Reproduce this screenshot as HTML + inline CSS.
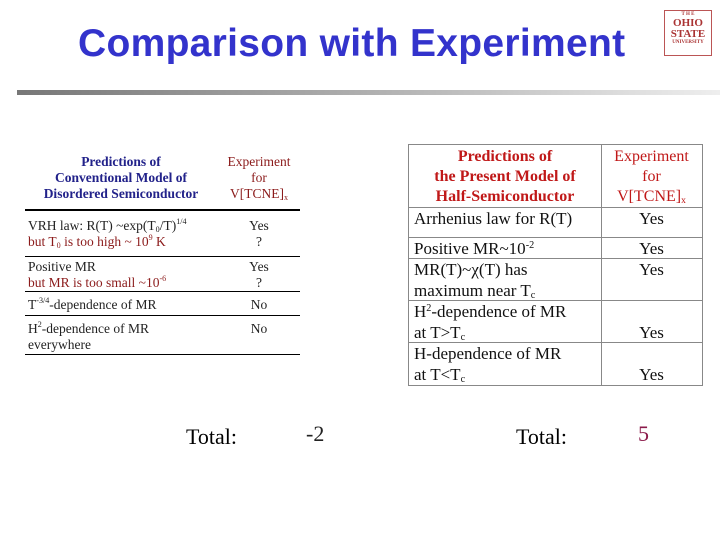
<!DOCTYPE html>
<html><head><meta charset="utf-8"><style>
body{margin:0;width:720px;height:540px;background:#fff;position:relative;overflow:hidden;font-family:"Liberation Serif",serif}
.a{position:absolute;white-space:nowrap}
.L{font-size:13.5px;line-height:16px;color:#222}
.R{font-size:17px;line-height:21px;color:#111}
.red{color:#8b1a1a}
.hr{position:absolute;background:#000}
sup{font-size:60%;vertical-align:6px;line-height:0}
sub{font-size:60%;vertical-align:-2px;line-height:0}
</style></head><body>
<div class="a" style="left:78px;top:22px;font:bold 39px 'Liberation Sans',sans-serif;color:#3333cc;letter-spacing:0.3px">Comparison with Experiment</div>
<div class="a" style="left:17px;top:90px;width:703px;height:5px;background:linear-gradient(to right,#777,#bbb 60%,#eee)"></div>
<div class="a" style="left:664px;top:10px;width:46px;height:44px;border:1px solid #b55;color:#a33;text-align:center;font:bold 11px/11px 'Liberation Serif',serif"><div style="font-size:5px;line-height:7px">T H E</div>OHIO<br>STATE<div style="font-size:5px;line-height:6px">UNIVERSITY</div></div>

<div>
<div class="a L" style="left:30px;top:154px;width:182px;text-align:center;font-weight:bold;color:#22228a">Predictions of<br>Conventional Model of<br>Disordered Semiconductor</div>
<div class="a L red" style="left:218px;top:154px;width:82px;text-align:center">Experiment<br>for<br>V[TCNE]<sub>x</sub></div>
<div class="hr" style="left:25px;top:209px;width:275px;height:2px"></div>
<div class="a L" style="left:28px;top:218px">VRH law: R(T) ~exp(T<sub>0</sub>/T)<sup>1/4</sup><br><span class="red">but T<sub>0</sub> is too high ~ 10<sup>9</sup> K</span></div>
<div class="a L" style="left:218px;top:218px;width:82px;text-align:center">Yes<br>?</div>
<div class="hr" style="left:25px;top:256px;width:275px;height:1px"></div>
<div class="a L" style="left:28px;top:259px">Positive MR<br><span class="red">but MR is too small ~10<sup>-6</sup></span></div>
<div class="a L" style="left:218px;top:259px;width:82px;text-align:center">Yes<br>?</div>
<div class="hr" style="left:25px;top:291px;width:275px;height:1px"></div>
<div class="a L" style="left:28px;top:297px">T<sup>-3/4</sup>-dependence of MR</div>
<div class="a L" style="left:218px;top:297px;width:82px;text-align:center">No</div>
<div class="hr" style="left:25px;top:315px;width:275px;height:1px"></div>
<div class="a L" style="left:28px;top:321px">H<sup>2</sup>-dependence of MR<br>everywhere</div>
<div class="a L" style="left:218px;top:321px;width:82px;text-align:center">No</div>
<div class="hr" style="left:25px;top:354px;width:275px;height:1px"></div>
</div>

<div style="position:absolute;left:408px;top:144px;width:293px;height:240px;border:1px solid #888">
<div class="a" style="left:192px;top:0;width:1px;height:240px;background:#888"></div>
<div class="a" style="left:0;top:62px;width:293px;height:1px;background:#888"></div>
<div class="a" style="left:0;top:92px;width:293px;height:1px;background:#888"></div>
<div class="a" style="left:0;top:113px;width:293px;height:1px;background:#888"></div>
<div class="a" style="left:0;top:155px;width:293px;height:1px;background:#888"></div>
<div class="a" style="left:0;top:197px;width:293px;height:1px;background:#888"></div>
<div class="a" style="left:0;top:2px;width:192px;text-align:center;font:bold 16px/20px 'Liberation Serif',serif;color:#c01818">Predictions of<br>the Present Model of<br>Half-Semiconductor</div>
<div class="a" style="left:192px;top:2px;width:101px;text-align:center;font:16px/20px 'Liberation Serif',serif;color:#c01818">Experiment<br>for<br>V[TCNE]<sub>x</sub></div>
<div class="a R" style="left:5px;top:63px">Arrhenius law for R(T)</div><div class="a R" style="left:192px;top:63px;width:101px;text-align:center">Yes</div>
<div class="a R" style="left:5px;top:93px">Positive MR~10<sup>-2</sup></div><div class="a R" style="left:192px;top:93px;width:101px;text-align:center">Yes</div>
<div class="a R" style="left:5px;top:114px">MR(T)~χ(T) has<br>maximum near T<sub>c</sub></div><div class="a R" style="left:192px;top:114px;width:101px;text-align:center">Yes</div>
<div class="a R" style="left:5px;top:156px">H<sup>2</sup>-dependence of MR<br>at T&gt;T<sub>c</sub></div><div class="a R" style="left:192px;top:177px;width:101px;text-align:center">Yes</div>
<div class="a R" style="left:5px;top:198px">H-dependence of MR<br>at T&lt;T<sub>c</sub></div><div class="a R" style="left:192px;top:219px;width:101px;text-align:center">Yes</div>
</div>

<div class="a" style="left:186px;top:424px;font-size:22px">Total:</div>
<div class="a" style="left:306px;top:421px;font-size:22px;color:#222">-2</div>
<div class="a" style="left:516px;top:424px;font-size:22px">Total:</div>
<div class="a" style="left:638px;top:421px;font-size:22px;color:#8b1a4a">5</div>
</body></html>
